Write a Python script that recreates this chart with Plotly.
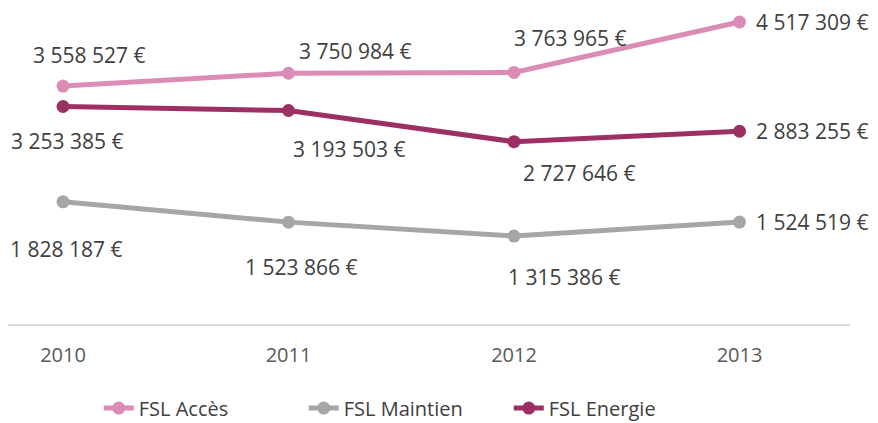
import plotly.graph_objects as go

years = ["2010", "2011", "2012", "2013"]
fsl_acces = [3558527, 3750984, 3763965, 4517309]
fsl_maintien = [1828187, 1523866, 1315386, 1524519]
fsl_energie = [3253385, 3193503, 2727646, 2883255]

series = [
    ("FSL Accès", fsl_acces, "#DA8CB6"),
    ("FSL Maintien", fsl_maintien, "#A6A6A6"),
    ("FSL Energie", fsl_energie, "#9C3064"),
]

# label offsets in px (xshift, yshift) for each point, per series
label_offsets = {
    "FSL Accès": [(26, 31), (66, 22), (56, 34), None],
    "FSL Maintien": [(3, -47), (12, -45), (50, -41), None],
    "FSL Energie": [(4, -34), (60, -38), (65, -31), None],
}


def fmt_eur(v):
    return f"{v:,}".replace(",", " ") + " €"


fig = go.Figure()
annotations = []
for name, values, color in series:
    fig.add_trace(go.Scatter(
        x=years,
        y=values,
        name=name,
        mode="lines+markers",
        line=dict(color=color, width=5),
        marker=dict(color=color, size=13),
    ))
    for i, (v, off) in enumerate(zip(values, label_offsets[name])):
        if off is None:
            annotations.append(dict(
                x=i, y=v, text=fmt_eur(v), showarrow=False,
                xanchor="left", yanchor="middle", xshift=14,
            ))
        else:
            annotations.append(dict(
                x=i, y=v, text=fmt_eur(v), showarrow=False,
                xanchor="center", yanchor="middle",
                xshift=off[0], yshift=off[1],
            ))

# page body adds an 8px margin, so the figure is a bit smaller than the window
fig.update_layout(
    width=870,
    height=415,
    margin=dict(l=0, r=28, t=0, b=99, autoexpand=False),
    paper_bgcolor="white",
    plot_bgcolor="white",
    font=dict(family="Open Sans", size=21, color="#404040"),
    annotations=annotations,
    showlegend=True,
    legend=dict(
        orientation="h",
        x=0.473,
        xanchor="center",
        y=-0.266,
        yanchor="middle",
        font=dict(size=20, color="#404040"),
        entrywidth=160,
    ),
)
fig.update_xaxes(
    type="category",
    range=[-0.244, 3.49],
    showgrid=False,
    showline=True,
    linecolor="#D9D9D9",
    linewidth=2,
    ticks="",
    ticklabelstandoff=12,
    tickfont=dict(size=20, color="#595959"),
)
fig.update_yaxes(
    range=[0, 4727043],
    visible=False,
    showgrid=False,
    zeroline=False,
)

fig.write_html("out.html")
